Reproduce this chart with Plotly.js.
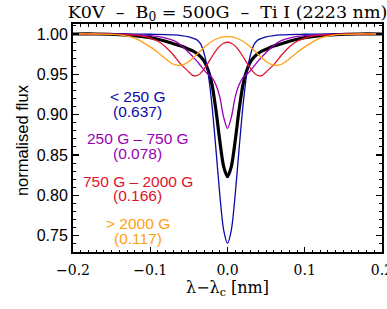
<!DOCTYPE html>
<html>
<head>
<meta charset="utf-8">
<script src="https://cdn.plot.ly/plotly-3.0.1.min.js"></script>
<style>html,body{margin:0;padding:0;background:#fff;}#chart{width:387px;height:309px;}</style>
</head>
<body>
<div id="chart"></div>
<script>
// wavelength offset from line centre [nm]
const wavelength = [-0.2,-0.17,-0.14,-0.12,-0.10,-0.09,-0.08,-0.07,-0.06,-0.05,-0.045,-0.04,-0.035,-0.03,-0.025,-0.02,-0.015,-0.01,-0.005,
  0,
  0.005,0.01,0.015,0.02,0.025,0.03,0.035,0.04,0.045,0.05,0.06,0.07,0.08,0.09,0.10,0.12,0.14,0.17,0.2];

// < 250 G component
const fluxWeak = [1.0,1.0,1.0,0.9998,0.9997,0.9996,0.9993,0.9988,0.998,0.9965,0.995,0.993,0.988,0.975,0.9509,0.9106,0.8576,0.8013,0.7573,
  0.7406,
  0.7573,0.8013,0.8576,0.9106,0.9509,0.975,0.988,0.993,0.995,0.9965,0.998,0.9988,0.9993,0.9996,0.9997,0.9998,1.0,1.0,1.0];

// 250 G - 750 G component
const fluxLow = [1.0,1.0,0.9996,0.999,0.998,0.997,0.995,0.992,0.986,0.977,0.972,0.967,0.961,0.955,0.950,0.946,0.937,0.922,0.897,
  0.883,
  0.897,0.922,0.937,0.946,0.950,0.955,0.961,0.967,0.972,0.977,0.986,0.992,0.995,0.997,0.998,0.999,0.9996,1.0,1.0];

// 750 G - 2000 G component
const fluxMid = [1.0,1.0,0.9996,0.9985,0.995,0.991,0.984,0.974,0.962,0.953,0.9486,0.9483,0.9512,0.957,0.9643,0.9721,0.9793,0.985,0.9885,
  0.9898,
  0.9885,0.985,0.9793,0.9721,0.9643,0.957,0.9512,0.9483,0.9486,0.953,0.962,0.974,0.984,0.991,0.995,0.9985,0.9996,1.0,1.0];

// > 2000 G component
const fluxStrong = [1.0,1.0,0.999,0.995,0.984,0.977,0.969,0.9625,0.9613,0.9659,0.9699,0.9744,0.9792,0.9836,0.9876,0.991,0.9935,0.9953,0.9964,
  0.9967,
  0.9964,0.9953,0.9935,0.991,0.9876,0.9836,0.9792,0.9744,0.9699,0.9659,0.9613,0.9625,0.969,0.977,0.984,0.995,0.999,1.0,1.0];

// total (filling-factor weighted) profile
const fluxTotal = [1.0,1.0,0.9993,0.998,0.9955,0.9935,0.991,0.988,0.985,0.981,0.979,0.976,0.972,0.966,0.955,0.937,0.906,0.868,0.836,
  0.8232,
  0.836,0.868,0.906,0.937,0.955,0.966,0.972,0.976,0.979,0.981,0.985,0.988,0.991,0.9935,0.9955,0.998,0.9993,1.0,1.0];

const legendRange = ["< 250 G", "250 G \u2013 750 G", "750 G \u2013 2000 G", "> 2000 G"];
const legendFraction = ["(0.637)", "(0.078)", "(0.166)", "(0.117)"];
const xTicks = [-0.2, -0.1, 0.0, 0.1, 0.2];
const xTickText = ["\u22120.2", "\u22120.1", "0.0", "0.1", "0.2"];
const yTicks = [0.75, 0.80, 0.85, 0.90, 0.95, 1.00];
const yTickText = ["0.75", "0.80", "0.85", "0.90", "0.95", "1.00"];

const colors = ["#0a0aa8", "#9a00b4", "#e0142c", "#ffa010"];
const componentFlux = [fluxWeak, fluxLow, fluxMid, fluxStrong];

const traces = [{
  x: wavelength, y: fluxTotal, type: "scatter", mode: "lines",
  line: {color: "#000000", width: 3.2, shape: "spline", smoothing: 0.8},
  hoverinfo: "skip"
}];
componentFlux.forEach((f, i) => {
  traces.push({
    x: wavelength, y: f, type: "scatter", mode: "lines",
    line: {color: colors[i], width: 1.3, shape: "spline", smoothing: 0.8},
    hoverinfo: "skip"
  });
});

const legendY = [[0.684, 0.618], [0.496, 0.430], [0.311, 0.246], [0.123, 0.061]];
const annotations = [];
legendRange.forEach((t, i) => {
  annotations.push({text: t, x: 0.21, y: legendY[i][0], xref: "paper", yref: "paper",
    xanchor: "center", yanchor: "middle", showarrow: false,
    font: {family: "Liberation Sans, Arial, sans-serif", size: 15.5, color: colors[i]}});
  annotations.push({text: legendFraction[i], x: 0.21, y: legendY[i][1], xref: "paper", yref: "paper",
    xanchor: "center", yanchor: "middle", showarrow: false,
    font: {family: "Liberation Sans, Arial, sans-serif", size: 15.5, color: colors[i]}});
});
// axis titles
annotations.push({text: "normalised flux", textangle: -90, x: -0.165, y: 0.491,
  xref: "paper", yref: "paper", xanchor: "center", yanchor: "middle", showarrow: false,
  font: {family: "Liberation Sans, Arial, sans-serif", size: 16.5, color: "#000"}});
annotations.push({text: "\u03bb\u2212\u03bb<sub>c</sub> [nm]", x: 0.5, y: -0.162,
  xref: "paper", yref: "paper", xanchor: "center", yanchor: "middle", showarrow: false,
  font: {family: "DejaVu Serif, serif", size: 16, color: "#000"}});

const layout = {
  width: 387, height: 309,
  margin: {l: 73, r: 5, t: 24, b: 57},
  paper_bgcolor: "#ffffff", plot_bgcolor: "#ffffff",
  showlegend: false,
  title: {
    text: "K0V\u00a0\u00a0\u2013\u00a0\u00a0B<sub>0</sub> = 500G\u00a0\u00a0\u2013\u00a0\u00a0Ti I (2223 nm)",
    font: {family: "DejaVu Serif, serif", size: 17.5, color: "#000"},
    x: 0.5, xref: "paper", xanchor: "center",
    y: 0.963, yref: "container", yanchor: "middle"
  },
  xaxis: {
    range: [-0.2, 0.20001],
    tickvals: xTicks, ticktext: xTickText,
    ticks: "inside", ticklen: 5, tickwidth: 1.2, tickcolor: "#000",
    minor: {dtick: 0.01, ticks: "inside", ticklen: 2.5, tickwidth: 1, tickcolor: "#000"},
    showline: true, linecolor: "#000", linewidth: 2, mirror: "allticks",
    showgrid: false, zeroline: false,
    ticklabeloverflow: "allow", ticklabelstandoff: 4,
    tickfont: {family: "DejaVu Serif, serif", size: 14, color: "#000"}
  },
  yaxis: {
    range: [0.7298, 1.0124],
    tickvals: yTicks, ticktext: yTickText,
    ticks: "inside", ticklen: 6, tickwidth: 1.2, tickcolor: "#000",
    minor: {dtick: 0.01, ticks: "inside", ticklen: 3, tickwidth: 1, tickcolor: "#000"},
    showline: true, linecolor: "#000", linewidth: 2, mirror: "allticks",
    showgrid: false, zeroline: false,
    tickfont: {family: "Liberation Sans, Arial, sans-serif", size: 16, color: "#000"}
  },
  annotations: annotations
};

Plotly.newPlot("chart", traces, layout, {staticPlot: true, displayModeBar: false});
</script>
</body>
</html>
